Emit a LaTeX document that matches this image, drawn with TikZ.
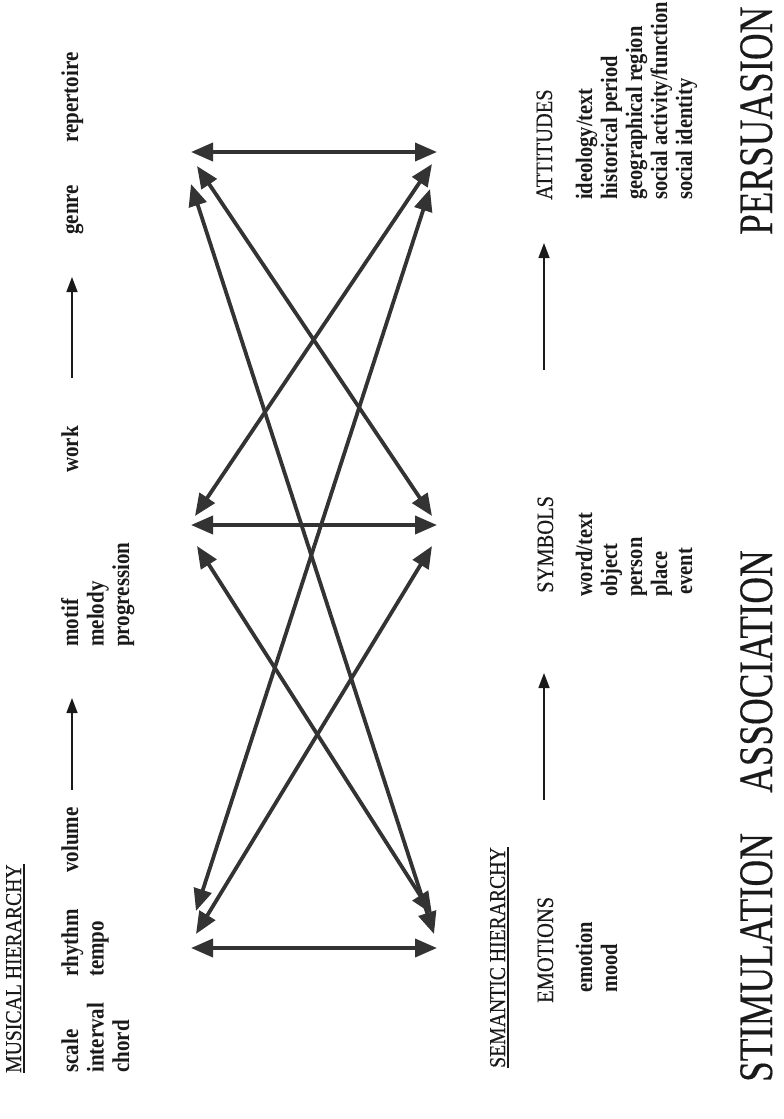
\documentclass[tikz,border=0pt]{standalone}
\usepackage{fontspec}
\setmainfont{Liberation Serif}
\newfontface\headface[FakeBold=0.35]{Liberation Serif}
\usetikzlibrary{arrows.meta}
\definecolor{ink}{HTML}{1A1A1A}
\definecolor{arr}{HTML}{333333}
\newcommand\vst[1]{\scalebox{1}[1.15]{#1}}
\newcommand\vbig[1]{\scalebox{1}[1.3]{#1}}
\begin{document}
\begin{tikzpicture}[x=1pt,y=-1pt,
  txt/.style={rotate=90, anchor=base west, inner sep=0pt, text=ink},
  item/.style={txt, font=\fontsize{21}{25}\selectfont\bfseries},
  sitem/.style={txt, font=\fontsize{20.5}{25}\selectfont\bfseries},
  head/.style={txt, font=\headface\fontsize{19.7}{24}\selectfont},
  cat/.style={txt, font=\headface\fontsize{20.5}{24}\selectfont},
  big/.style={txt, font=\headface\fontsize{37}{44}\selectfont},
  uline/.style={draw=ink, line width=1.4pt},
  link/.style={draw=arr, line width=3.8pt, {Triangle[length=22pt,width=18pt]}-{Triangle[length=22pt,width=18pt]}},
  flow/.style={draw=ink, line width=1.4pt, -{Triangle[length=15pt,width=11pt]}},
]
\useasboundingbox[fill=white] (0,0) rectangle (784,1119);

% ---------- musical hierarchy ----------
\node[head] (mh) at (21,1073) {\vst{MUSICAL HIERARCHY}};
\draw[uline] ([xshift=2.5pt]mh.south west) -- ([xshift=2.5pt]mh.south east);
\node[item] (scale) at (78,1073) {\vst{scale}};
\node[item] (interval) at (103.5,1073) {\vst{interval}};
\node[item] (chord) at (129,1073) {\vst{chord}};
\node[item] (rhythm) at (78,977) {\vst{rhythm}};
\node[item] (tempo) at (103.5,977) {\vst{tempo}};
\node[item] (volume) at (78,873) {\vst{volume}};
\coordinate (ma1) at (72,790); \coordinate (ma2) at (72,698);
\draw[flow] (ma1) -- (ma2);
\node[item] (motif) at (78,647) {\vst{motif}};
\node[item] (melody) at (103.5,647) {\vst{melody}};
\node[item] (progression) at (129,647) {\vst{progression}};
\node[item] (work) at (78,473) {\vst{work}};
\coordinate (mb1) at (72,378); \coordinate (mb2) at (72,277);
\draw[flow] (mb1) -- (mb2);
\node[item] (genre) at (78,235) {\vst{genre}};
\node[item] (repertoire) at (78,143) {\vst{repertoire}};

% ---------- arrow network ----------
\coordinate (lt) at (191,152);   \coordinate (rt) at (437,152);
\coordinate (lm) at (191,525);   \coordinate (rm) at (437,525);
\coordinate (lb) at (191,948);   \coordinate (rb) at (437,948);
\coordinate (lt-m) at (197,166); \coordinate (lt-b) at (191,184);
\coordinate (rt-m) at (432,164); \coordinate (rt-b) at (430,189);
\coordinate (lm-t) at (195,516); \coordinate (lm-b) at (197,546);
\coordinate (rm-t) at (432,516); \coordinate (rm-b) at (432,546);
\coordinate (lb-m) at (196,934); \coordinate (lb-t) at (196,911);
\coordinate (rb-m) at (432,914); \coordinate (rb-t) at (434,934);
\draw[link] (lt) -- (rt);
\draw[link] (lm) -- (rm);
\draw[link] (lb) -- (rb);
\draw[link] (lt-m) -- (rm-t);
\draw[link] (lt-b) -- (rb-t);
\draw[link] (lm-t) -- (rt-m);
\draw[link] (lm-b) -- (rb-m);
\draw[link] (lb-t) -- (rt-b);
\draw[link] (lb-m) -- (rm-b);

% ---------- semantic hierarchy ----------
\node[head] (sh) at (505,1068) {\vst{SEMANTIC HIERARCHY}};
\draw[uline] ([xshift=2.5pt]sh.south west) -- ([xshift=2.5pt]sh.south east);
\node[cat] (emotions) at (553,1003) {\vst{EMOTIONS}};
\node[sitem] (emotion) at (592,993) {\vst{emotion}};
\node[sitem] (mood) at (617,993) {\vst{mood}};
\coordinate (sa1) at (544,800); \coordinate (sa2) at (544,673);
\draw[flow] (sa1) -- (sa2);
\node[cat] (symbols) at (553,593) {\vst{SYMBOLS}};
\node[sitem] (word) at (592,597) {\vst{word/text}};
\node[sitem] (object) at (617,597) {\vst{object}};
\node[sitem] (person) at (642,597) {\vst{person}};
\node[sitem] (place) at (667,597) {\vst{place}};
\node[sitem] (event) at (692,595) {\vst{event}};
\coordinate (sb1) at (544,370); \coordinate (sb2) at (544,243);
\draw[flow] (sb1) -- (sb2);
\node[cat] (attitudes) at (552,200) {\vst{ATTITUDES}};
\node[sitem] (ideology) at (592,200) {\vst{ideology/text}};
\node[sitem] (historical) at (617,200) {\vst{historical period}};
\node[sitem] (geographical) at (642,200) {\vst{geographical region}};
\node[sitem] (social) at (667,200) {\vst{social activity/function}};
\node[sitem] (identity) at (692,200) {\vst{social identity}};

% ---------- bottom labels ----------
\node[big] (stim) at (772,1082) {\vbig{STIMULATION}};
\node[big] (assoc) at (772,793) {\vbig{ASSOCIATION}};
\node[big] (pers) at (772,235) {\vbig{PERSUASION}};
\end{tikzpicture}
\end{document}
